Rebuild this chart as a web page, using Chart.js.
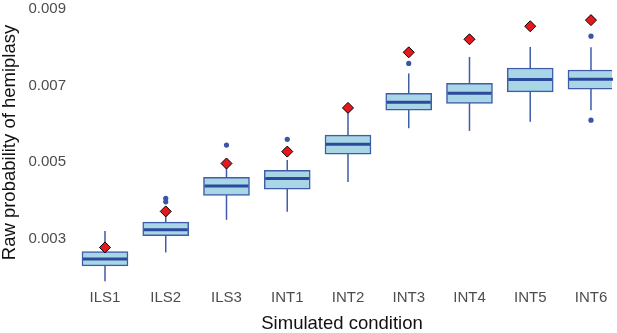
<!DOCTYPE html>
<html>
<head>
<meta charset="utf-8">
<script src="https://cdn.jsdelivr.net/npm/chart.js@4.4.1/dist/chart.umd.min.js"></script>
<style>
  html, body { margin: 0; padding: 0; background: #fff; }
  #wrap { width: 617px; height: 333px; }
</style>
</head>
<body>
<div id="wrap"><canvas id="chart"></canvas></div>
<script>
// Box plot data
const categories = ['ILS1', 'ILS2', 'ILS3', 'INT1', 'INT2', 'INT3', 'INT4', 'INT5', 'INT6'];
const whiskerLow = [0.00190, 0.00265, 0.00350, 0.00371, 0.00449, 0.00589, 0.00582, 0.00606, 0.00636];
const q1 = [0.00230, 0.00309, 0.00414, 0.00430, 0.00521, 0.00636, 0.00654, 0.00684, 0.00691];
const median = [0.00248, 0.00324, 0.00438, 0.00458, 0.00547, 0.00657, 0.00680, 0.00716, 0.00717];
const q3 = [0.00267, 0.00344, 0.00461, 0.00479, 0.00571, 0.00680, 0.00706, 0.00746, 0.00741];
const whiskerHigh = [0.00321, 0.00372, 0.00493, 0.00506, 0.00628, 0.00732, 0.00775, 0.00801, 0.00800];
const means = [0.00278, 0.00372, 0.00497, 0.00528, 0.00642, 0.00787, 0.00821, 0.00855, 0.00871];

// outliers: category index (1-based) and value
const outlierCat = [2, 2, 3, 4, 6, 9, 9];
const outlierValue = [0.00406, 0.00397, 0.00545, 0.00560, 0.00758, 0.00829, 0.00610];

const yTicks = [0.003, 0.005, 0.007, 0.009];

const boxFill = 'rgb(168, 214, 230)';
const boxLine = 'rgb(62, 92, 168)';
const medianLine = 'rgb(44, 74, 156)';
const font = 'Liberation Sans, Arial, sans-serif';

// whiskers drawn under the boxes, medians on top of the boxes
const boxPlugin = {
    id: 'boxParts',
    beforeDatasetsDraw(chart) {
        const ctx = chart.ctx;
        const x = chart.scales.x;
        const y = chart.scales.y;
        ctx.save();
        ctx.strokeStyle = boxLine;
        ctx.lineWidth = 1.5;
        categories.forEach((c, i) => {
            const px = x.getPixelForValue(i + 1);
            ctx.beginPath();
            ctx.moveTo(px, y.getPixelForValue(whiskerLow[i]));
            ctx.lineTo(px, y.getPixelForValue(whiskerHigh[i]));
            ctx.stroke();
        });
        ctx.restore();
    },
    afterDatasetDraw(chart, args) {
        if (args.index !== 2) return;
        const ctx = chart.ctx;
        const y = chart.scales.y;
        ctx.save();
        ctx.strokeStyle = medianLine;
        ctx.lineWidth = 3;
        args.meta.data.forEach((bar, i) => {
            const half = bar.width / 2;
            const py = y.getPixelForValue(median[i]);
            ctx.beginPath();
            ctx.moveTo(bar.x - half + 1, py);
            ctx.lineTo(bar.x + half - 1, py);
            ctx.stroke();
        });
        ctx.restore();
    }
};

const ctx = document.getElementById('chart').getContext('2d');
new Chart(ctx, {
    type: 'bar',
    data: {
        datasets: [
            {
                type: 'scatter',
                label: 'Mean',
                data: means.map((v, i) => ({ x: i + 1, y: v })),
                pointStyle: 'rectRot',
                pointRadius: 5.5,
                backgroundColor: '#e3191f',
                borderColor: '#000',
                borderWidth: 1,
                clip: false
            },
            {
                type: 'scatter',
                label: 'Outliers',
                data: outlierValue.map((v, i) => ({ x: outlierCat[i], y: v })),
                pointStyle: 'circle',
                pointRadius: 2.6,
                backgroundColor: 'rgb(60, 84, 164)',
                borderWidth: 0,
                clip: false
            },
            {
                label: 'IQR',
                data: q1.map((v, i) => ({ x: i + 1, y: [v, q3[i]] })),
                backgroundColor: boxFill,
                borderColor: boxLine,
                borderWidth: 1.5,
                borderSkipped: false,
                barThickness: 46
            }
        ]
    },
    options: {
        responsive: true,
        maintainAspectRatio: false,
        animation: false,
        layout: { autoPadding: false, padding: { left: 0, right: 5, top: 0, bottom: 0 } },
        plugins: {
            legend: { display: false },
            tooltip: { enabled: false }
        },
        scales: {
            x: {
                type: 'linear',
                offset: false,
                min: 0.457,
                max: 9.346,
                grid: { display: false, drawTicks: false },
                border: { display: false },
                afterFit: (scale) => {
                    scale.height = 48;
                    scale.paddingLeft = 0;
                    scale.paddingRight = 0;
                },
                afterBuildTicks: (scale) => {
                    scale.ticks = categories.map((c, i) => ({ value: i + 1 }));
                },
                ticks: {
                    padding: 4,
                    autoSkip: false,
                    maxRotation: 0,
                    color: '#4d4d4d',
                    font: { family: font, size: 15 },
                    callback: (v) => categories[v - 1]
                },
                title: {
                    display: true,
                    text: 'Simulated condition',
                    color: '#111',
                    padding: { top: 0, bottom: 0 },
                    font: { family: font, size: 18.5, lineHeight: 1 }
                }
            },
            y: {
                min: 0.0018,
                max: 0.009235,
                grid: { display: false, drawTicks: false },
                border: { display: false },
                afterFit: (scale) => {
                    scale.width = 72;
                    scale.paddingTop = 0;
                    scale.paddingBottom = 0;
                },
                afterBuildTicks: (scale) => {
                    scale.ticks = yTicks.map(v => ({ value: v }));
                },
                ticks: {
                    padding: 6,
                    color: '#4d4d4d',
                    font: { family: font, size: 15 },
                    callback: (v) => v.toFixed(3)
                },
                title: {
                    display: true,
                    text: 'Raw probability of hemiplasy',
                    color: '#111',
                    padding: { top: 1, bottom: 0 },
                    font: { family: font, size: 18.5, lineHeight: 1 }
                }
            }
        }
    },
    plugins: [boxPlugin]
});
</script>
</body>
</html>
